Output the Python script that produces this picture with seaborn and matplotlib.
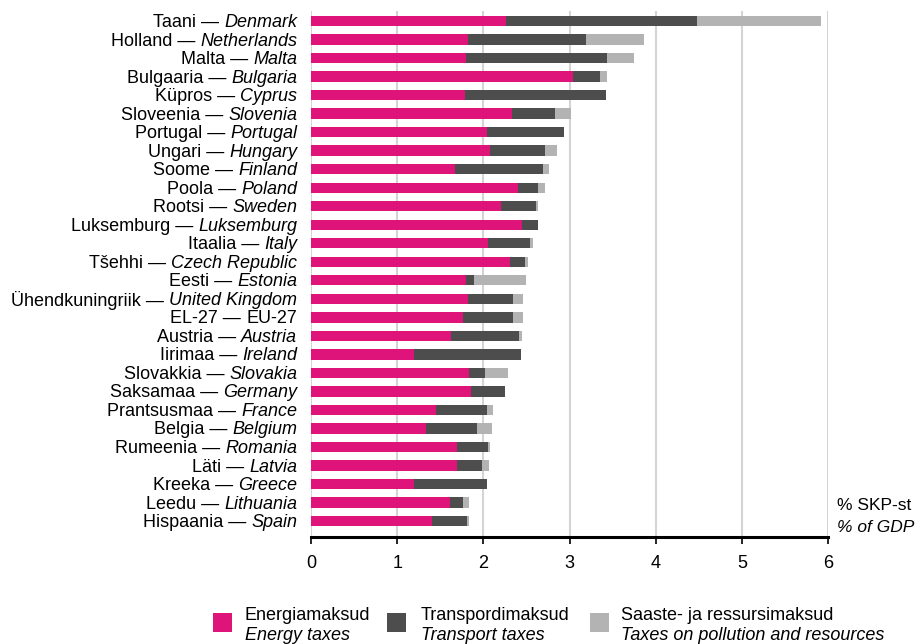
import matplotlib
matplotlib.use("Agg")
import matplotlib.pyplot as plt
import seaborn as sns
import pandas as pd
import numpy as np
from matplotlib.patches import Rectangle
from matplotlib.transforms import blended_transform_factory, ScaledTranslation, IdentityTransform

# ---------------- data ----------------
names_et = ["Taani", "Holland", "Malta", "Bulgaaria", "Küpros", "Sloveenia", "Portugal",
            "Ungari", "Soome", "Poola", "Rootsi", "Luksemburg", "Itaalia", "Tšehhi",
            "Eesti", "Ühendkuningriik", "EL-27", "Austria", "Iirimaa", "Slovakkia",
            "Saksamaa", "Prantsusmaa", "Belgia", "Rumeenia", "Läti", "Kreeka", "Leedu",
            "Hispaania"]
names_en = ["Denmark", "Netherlands", "Malta", "Bulgaria", "Cyprus", "Slovenia", "Portugal",
            "Hungary", "Finland", "Poland", "Sweden", "Luksemburg", "Italy", "Czech Republic",
            "Estonia", "United Kingdom", "EU-27", "Austria", "Ireland", "Slovakia",
            "Germany", "France", "Belgium", "Romania", "Latvia", "Greece", "Lithuania",
            "Spain"]
energy = [2.26, 1.82, 1.80, 3.04, 1.79, 2.33, 2.04, 2.08, 1.67, 2.40, 2.20, 2.45, 2.05, 2.31,
          1.80, 1.82, 1.76, 1.63, 1.19, 1.83, 1.86, 1.45, 1.33, 1.70, 1.69, 1.20, 1.61, 1.40]
transport = [2.22, 1.37, 1.64, 0.31, 1.63, 0.50, 0.90, 0.63, 1.02, 0.23, 0.41, 0.18, 0.49, 0.17,
             0.09, 0.53, 0.58, 0.78, 1.25, 0.19, 0.39, 0.59, 0.60, 0.35, 0.29, 0.84, 0.15, 0.41]
pollution = [1.44, 0.67, 0.31, 0.09, 0.00, 0.19, 0.00, 0.15, 0.07, 0.08, 0.03, 0.00, 0.04, 0.04,
             0.61, 0.11, 0.12, 0.04, 0.00, 0.27, 0.00, 0.07, 0.17, 0.03, 0.08, 0.00, 0.07, 0.02]
x_ticks = [0, 1, 2, 3, 4, 5, 6]
legend_et = ["Energiamaksud", "Transpordimaksud", "Saaste- ja ressursimaksud"]
legend_en = ["Energy taxes", "Transport taxes", "Taxes on pollution and resources"]
unit_et = "% SKP-st"
unit_en = "% of GDP"

colors = ["#DF147A", "#4D4D4D", "#B3B3B3"]

# ---------------- figure ----------------
sns.set_theme(style="white")
plt.rcParams["font.family"] = ["Liberation Sans", "DejaVu Sans"]

W, H = 918, 644
fig = plt.figure(figsize=(W / 100, H / 100), dpi=100)
ax = fig.add_axes([311 / W, 1 - 537 / H, (828 - 311) / W, (537 - 11) / H])

df = pd.DataFrame({
    "lbl": [f"{a} — {b}" for a, b in zip(names_et, names_en)],
    "e": energy,
    "t": transport,
    "p": pollution,
})
df["et"] = df["e"] + df["t"]
df["tot"] = df["et"] + df["p"]

for col, c in zip(["tot", "et", "e"], colors[::-1]):
    sns.barplot(data=df, y="lbl", x=col, color=c, orient="h", width=0.56,
                saturation=1, linewidth=0, edgecolor="none", ax=ax, zorder=2)

ax.set_xlim(0, 6)
ax.set_ylim(len(df) - 1 + 0.86, -0.54)
ax.set_xticks(x_ticks)
ax.set_xticklabels([str(v) for v in x_ticks])
ax.set_xlabel("")
ax.set_ylabel("")
ax.set_axisbelow(True)
ax.xaxis.grid(True, color="#D4D4D4", linewidth=1.5)
ax.yaxis.grid(False)
for s in ["left", "top", "right"]:
    ax.spines[s].set_visible(False)
ax.spines["bottom"].set_color("black")
ax.spines["bottom"].set_linewidth(2.2)
ax.tick_params(axis="x", bottom=True, direction="out", length=5, width=1.2,
               color="black", pad=8, labelsize=13, labelcolor="black")
ax.tick_params(axis="y", left=False, labelleft=False)

# ---------------- category labels (regular + italic) ----------------
FS = 13
fig.canvas.draw()
r = fig.canvas.get_renderer()
trans_it = blended_transform_factory(ax.transAxes, ax.transData) + \
    ScaledTranslation(-14 / 100, -1.5 / 100, fig.dpi_scale_trans)
for i, (et, en) in enumerate(zip(names_et, names_en)):
    style = "normal" if en == "EU-27" else "italic"
    t = ax.text(0, i, en, transform=trans_it, ha="right", va="center",
                fontsize=FS, style=style, color="black")
    bb = t.get_window_extent(r)
    trans_reg = blended_transform_factory(IdentityTransform(), ax.transData) + \
        ScaledTranslation(0, -1.5 / 100, fig.dpi_scale_trans)
    ax.text(bb.x0, i, f"{et} — ", transform=trans_reg, ha="right", va="center",
            fontsize=FS, color="black")

# ---------------- unit note ----------------
fig.text(837 / W, 1 - 505 / H, unit_et, fontsize=12.5, va="center", ha="left", color="black")
fig.text(837 / W, 1 - 528 / H, unit_en, fontsize=12.5, va="center", ha="left",
         style="italic", color="black")

# ---------------- legend ----------------
sq_x = [213, 387, 590]
tx_x = [245, 421, 621]
for c, sx, tx, l1, l2 in zip(colors, sq_x, tx_x, legend_et, legend_en):
    fig.patches.append(Rectangle((sx / W, 1 - 632 / H), 19 / W, 19 / H,
                                 transform=fig.transFigure, color=c, lw=0))
    fig.text(tx / W, 1 - 615 / H, l1, fontsize=13, va="center", ha="left", color="black")
    fig.text(tx / W, 1 - 635 / H, l2, fontsize=13, va="center", ha="left",
             style="italic", color="black")

fig.savefig("out.png", dpi=100, facecolor="white")
